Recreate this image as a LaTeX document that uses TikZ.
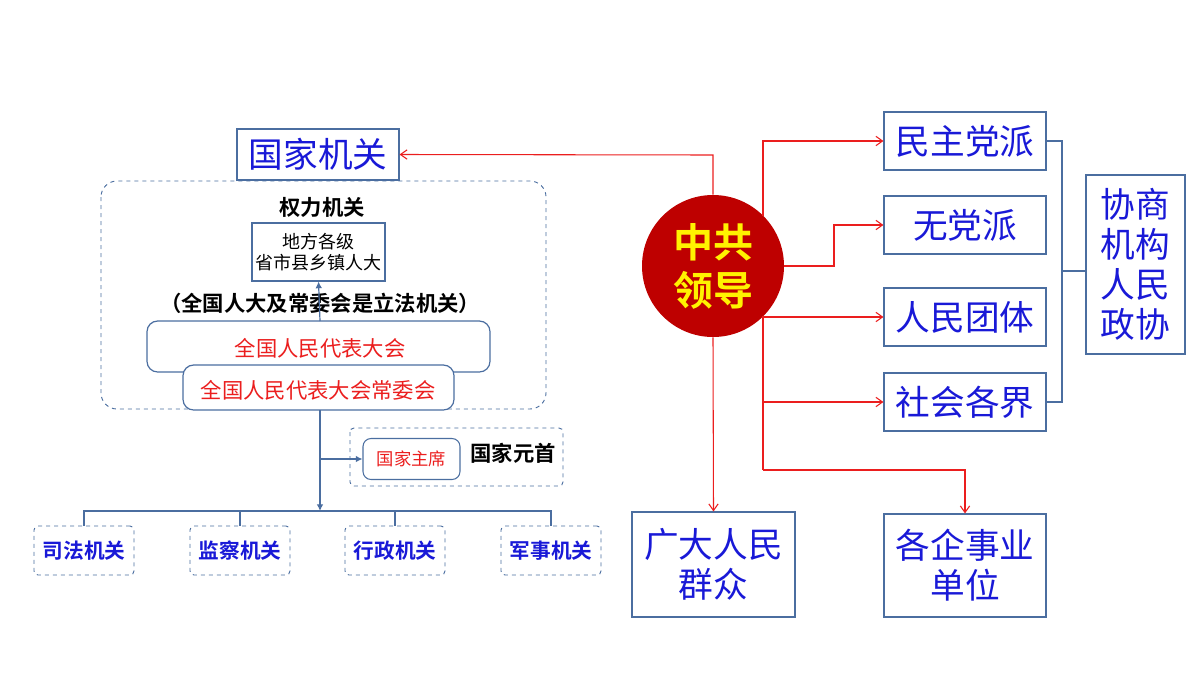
\documentclass[tikz,border=0pt]{standalone}
\usepackage{fontspec}
\setmainfont{Noto Sans CJK SC}
\newfontfamily\cjkb{Noto Sans CJK SC Bold}
\usetikzlibrary{arrows.meta}
\definecolor{tblue}{RGB}{25,25,215}
\definecolor{bord}{RGB}{75,110,160}
\definecolor{lred}{RGB}{235,30,30}
\definecolor{dred}{RGB}{190,0,0}
\tikzset{
 bx/.style={draw=bord,line width=0.8pt,inner sep=0pt},
 big/.style={font=\fontsize{26}{30}\selectfont,text=tblue},
 rl/.style={draw=lred,line width=0.8pt},
 ra/.style={rl,-{Straight Barb[length=5pt,width=7pt]}},
 bl/.style={draw=bord,line width=0.9pt},
 ba/.style={bl,-{Latex[length=5pt,width=5pt]}},
 dbx/.style={draw=bord,dashed,line width=0.7pt},
 sm/.style={font=\cjkb\fontsize{15.5}{18}\selectfont,text=tblue},
 bk/.style={font=\cjkb\fontsize{16}{18}\selectfont},
}
\begin{document}
\begin{tikzpicture}[x=0.75pt,y=-0.75pt]
\useasboundingbox (0,0) rectangle (1200,675);
% left part
\node[bx,big,minimum width=162*0.75pt,minimum height=51*0.75pt] (gj) at (318,154.5) {国家机关};
\draw[dbx,rounded corners=12pt] (101,181) rectangle (546,409);
\node[bk] (ql) at (322,207) {权力机关};
\node[bx,minimum width=133*0.75pt,minimum height=58*0.75pt,align=center,font=\fontsize{13.5}{16}\selectfont] (df) at (318.5,252) {地方各级\\省市县乡镇人大};
\node[bk] (lf) at (320,303) {（全国人大及常委会是立法机关）};
\draw[bl,rounded corners=8pt,fill=white] (147,321) rectangle (490,372);
\node[text=lred,font=\fontsize{16}{18}\selectfont] (qg) at (320,348) {全国人民代表大会};
\draw[bl,rounded corners=8pt,fill=white] (183,365) rectangle (454,410);
\node[text=lred,font=\fontsize{16}{18}\selectfont] (cw) at (318,390) {全国人民代表大会常委会};
\coordinate (cwb) at (320,410);
\coordinate (qgt) at (320,321);
\draw[ba] (qgt) -- (df.south);
\coordinate (br) at (320,511);
\draw[ba] (cwb) -- (br);
\draw[dbx,rounded corners=3pt] (350,428) rectangle (563,486);
\node[draw=bord,line width=0.8pt,rounded corners=6pt,minimum width=97*0.75pt,minimum height=41*0.75pt,text=lred,font=\fontsize{13}{15}\selectfont] (zx) at (411.5,459) {国家主席};
\node[bk] (yd) at (513,453) {国家元首};
\coordinate (j460) at (320,459);
\draw[ba] (j460) -- (zx.west);
\foreach \n/\x/\t in {sf/84/司法机关,jc/240/监察机关,xz/395/行政机关,js/551/军事机关}{
 \node[dbx,rounded corners=3pt,sm,minimum width=100*0.75pt,minimum height=49*0.75pt] (\n) at (\x,550.5) {\t};
}
\draw[bl] (sf.north) -- (84,511) -- (551,511) -- (js.north);
\draw[bl] (240,511) -- (jc.north);
\draw[bl] (395,511) -- (xz.north);
% circle
\node[circle,fill=dred,minimum size=142*0.75pt,inner sep=0pt,align=center,text=yellow,font=\cjkb\fontsize{30}{36}\selectfont] (zg) at (713,266) {中共\\领导};
\draw[ra] (zg.north) -- (713,155) -- (gj.east);
% right boxes
\foreach \n/\y/\t in {mz/141/民主党派,wd/225/无党派,rt/317/人民团体,sh/402/社会各界}{
 \node[bx,big,minimum width=162*0.75pt,minimum height=58*0.75pt] (\n) at (965,\y) {\t};
}
\node[bx,big,minimum width=163*0.75pt,minimum height=105*0.75pt,align=center,font=\fontsize{26}{30}\selectfont] (gd) at (713.5,564.5) {广大人民\\群众};
\node[bx,big,minimum width=162*0.75pt,minimum height=103*0.75pt,align=center,font=\fontsize{26}{30}\selectfont] (qy) at (965,565.5) {各企事业\\单位};
\node[bx,big,minimum width=99*0.75pt,minimum height=179*0.75pt,align=center,font=\fontsize{26}{30}\selectfont] (xs) at (1135.5,264.5) {协商\\机构\\人民\\政协};
\coordinate (t1) at (763,216);
\coordinate (t2) at (763,316);
\draw[ra] (t1) -- (763,141) -- (mz.west);
\draw[ra] (zg.east) -- (834,266) -- (834,225) -- (wd.west);
\draw[ra] (t2) -- (763,317) -- (rt.west);
\draw[rl] (t2) -- (763,470);
\draw[ra] (763,402) -- (sh.west);
\draw[ra] (763,470) -- (965,470) -- (qy.north);
\draw[ra] (zg.south) -- (gd.north);
% bracket
\draw[bl] (mz.east) -- (1062,141) -- (1062,402) -- (sh.east);
\draw[bl] (1062,271) -- (xs.west |- 0,271);
\end{tikzpicture}
\end{document}
